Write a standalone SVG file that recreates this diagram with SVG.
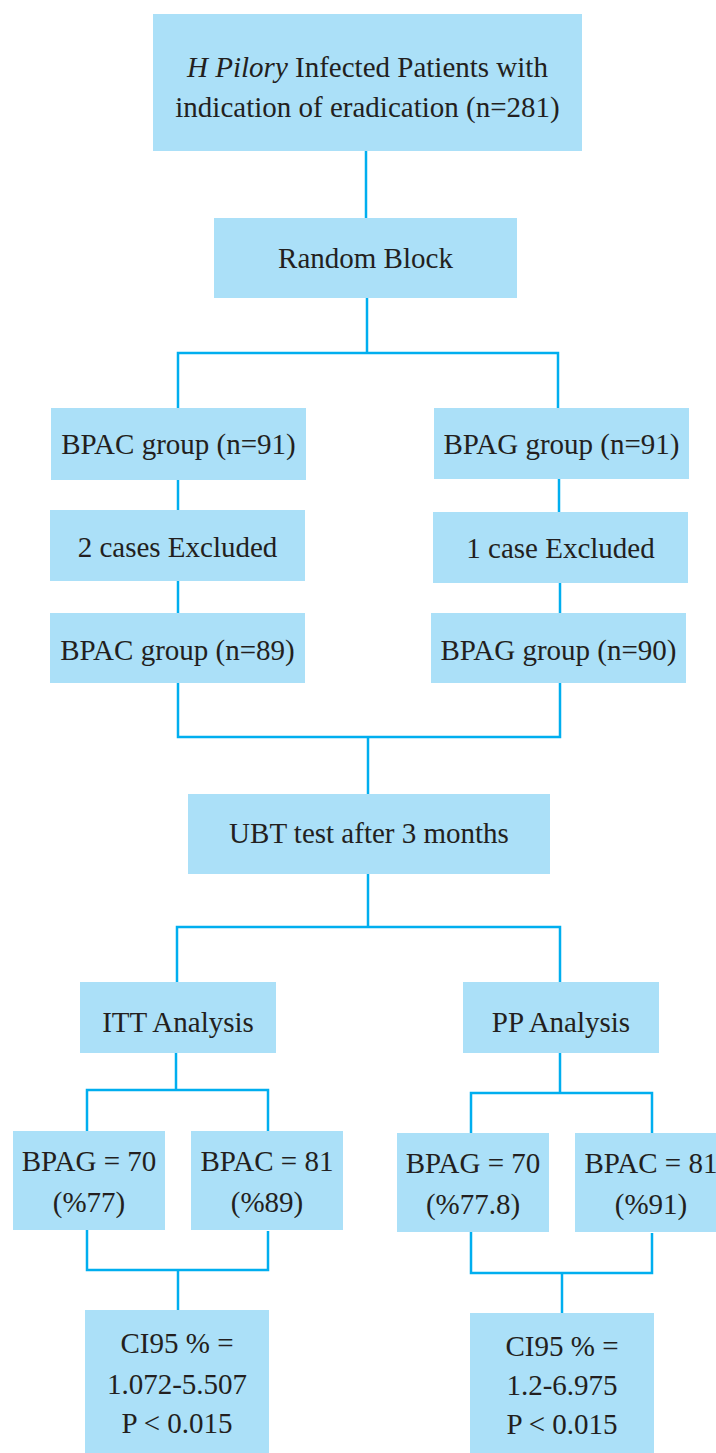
<svg xmlns="http://www.w3.org/2000/svg" width="716" height="1453" viewBox="0 0 716 1453">
<style>
.box{fill:#ABE0F8}
.t{font-family:"Liberation Serif","Times New Roman",serif;font-size:29px;fill:#231F20;text-anchor:middle}
.c{fill:none;stroke:#00AEEF;stroke-width:2.5}
</style>
<rect width="716" height="1453" fill="#ffffff"/>
<g id="connectors" class="c">
<path d="M366,151 V218"/>
<path d="M367,298 V353"/>
<path d="M178,408 V353 H558 V408"/>
<path d="M178,480 V510"/>
<path d="M178,581 V613"/>
<path d="M559,479 V512"/>
<path d="M560,583 V613"/>
<path d="M178,683 V737 H560 V683"/>
<path d="M368,737 V794"/>
<path d="M368,874 V927"/>
<path d="M177,982 V927 H560 V982"/>
<path d="M176,1053 V1090"/>
<path d="M87,1131 V1090 H268 V1131"/>
<path d="M87,1230 V1270 H268 V1231"/>
<path d="M178,1270 V1310"/>
<path d="M560,1053 V1093"/>
<path d="M471,1133 V1093 H652 V1133"/>
<path d="M471,1232 V1273 H652 V1233"/>
<path d="M562,1273 V1313"/>
</g>
<g id="n-start">
<rect class="box" x="153" y="14" width="429" height="137"/>
<text class="t" x="367.5" y="77"><tspan font-style="italic">H Pilory</tspan> Infected Patients with</text>
<text class="t" x="367.5" y="117">indication of eradication (n=281)</text>
</g>
<g id="n-random">
<rect class="box" x="214" y="218" width="303" height="80"/>
<text class="t" x="365.5" y="268">Random Block</text>
</g>
<g id="n-bpac91">
<rect class="box" x="51" y="408" width="255" height="72"/>
<text class="t" x="178.5" y="454">BPAC group (n=91)</text>
</g>
<g id="n-excl2">
<rect class="box" x="50" y="510" width="255" height="71"/>
<text class="t" x="177.5" y="557">2 cases Excluded</text>
</g>
<g id="n-bpac89">
<rect class="box" x="50" y="613" width="255" height="70"/>
<text class="t" x="177.5" y="660">BPAC group (n=89)</text>
</g>
<g id="n-bpag91">
<rect class="box" x="434" y="408" width="255" height="71"/>
<text class="t" x="561.5" y="454">BPAG group (n=91)</text>
</g>
<g id="n-excl1">
<rect class="box" x="433" y="512" width="255" height="71"/>
<text class="t" x="560.5" y="558">1 case Excluded</text>
</g>
<g id="n-bpag90">
<rect class="box" x="431" y="613" width="255" height="70"/>
<text class="t" x="558.5" y="660">BPAG group (n=90)</text>
</g>
<g id="n-ubt">
<rect class="box" x="188" y="794" width="362" height="80"/>
<text class="t" x="369" y="843">UBT test after 3 months</text>
</g>
<g id="n-itt">
<rect class="box" x="80" y="982" width="196" height="71"/>
<text class="t" x="178" y="1032">ITT Analysis</text>
</g>
<g id="n-pp">
<rect class="box" x="463" y="982" width="196" height="71"/>
<text class="t" x="561" y="1032">PP Analysis</text>
</g>
<g id="n-itt-bpag">
<rect class="box" x="13" y="1131" width="152" height="99"/>
<text class="t" x="89" y="1171">BPAG = 70</text>
<text class="t" x="89" y="1212">(%77)</text>
</g>
<g id="n-itt-bpac">
<rect class="box" x="191" y="1131" width="152" height="99"/>
<text class="t" x="267" y="1171">BPAC = 81</text>
<text class="t" x="267" y="1212">(%89)</text>
</g>
<g id="n-pp-bpag">
<rect class="box" x="397" y="1133" width="152" height="99"/>
<text class="t" x="473" y="1173">BPAG = 70</text>
<text class="t" x="473" y="1214">(%77.8)</text>
</g>
<g id="n-pp-bpac">
<rect class="box" x="575" y="1133" width="152" height="99"/>
<text class="t" x="651" y="1173">BPAC = 81</text>
<text class="t" x="651" y="1214">(%91)</text>
</g>
<g id="n-itt-ci">
<rect class="box" x="85" y="1310" width="184" height="143"/>
<text class="t" x="177" y="1353">CI95 % =</text>
<text class="t" x="177" y="1394">1.072-5.507</text>
<text class="t" x="177" y="1433">P &lt; 0.015</text>
</g>
<g id="n-pp-ci">
<rect class="box" x="470" y="1313" width="184" height="140"/>
<text class="t" x="562" y="1356">CI95 % =</text>
<text class="t" x="562" y="1395">1.2-6.975</text>
<text class="t" x="562" y="1434">P &lt; 0.015</text>
</g>
</svg>
